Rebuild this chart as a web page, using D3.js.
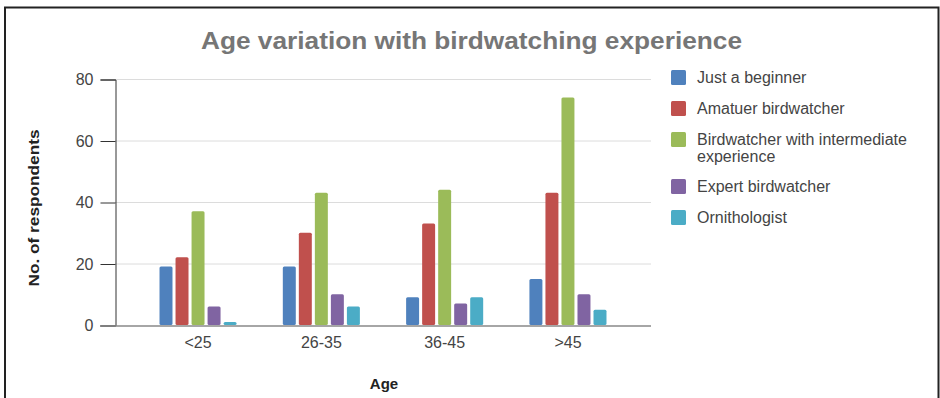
<!DOCTYPE html>
<html>
<head>
<meta charset="utf-8">
<script src="https://cdn.jsdelivr.net/npm/d3@7/dist/d3.min.js"></script>
<style>
  html, body { margin: 0; padding: 0; background: #fff; }
  svg { display: block; font-family: "Liberation Sans", Arial, sans-serif; }
</style>
</head>
<body>
<svg id="chart" width="940" height="398"></svg>
<script>
// Age groups on the x axis
const ageGroups = ["<25", "26-35", "36-45", ">45"];

// Experience levels (one bar per level in each age group)
const seriesNames = [
  "Just a beginner",
  "Amatuer birdwatcher",
  "Birdwatcher with intermediate experience",
  "Expert birdwatcher",
  "Ornithologist"
];
const seriesColors = ["#4F81BD", "#C0504D", "#9BBB59", "#8064A2", "#4BACC6"];

// Respondent counts per experience level, in age-group order
const justBeginner   = [19, 19, 9, 15];
const amateur        = [22, 30, 33, 43];
const intermediate   = [37, 43, 44, 74];
const expert         = [6, 10, 7, 10];
const ornithologist  = [1, 6, 9, 5];
const seriesValues = [justBeginner, amateur, intermediate, expert, ornithologist];

const yTicks = [0, 20, 40, 60, 80];

const svg = d3.select("#chart");

// Outer frame
svg.append("path")
  .attr("d", "M5,410 V7.5 H938.5 V410")
  .attr("fill", "none")
  .attr("stroke", "#222")
  .attr("stroke-width", 2);

const plot = { left: 115, right: 651, top: 79, bottom: 325 };

const y = d3.scaleLinear().domain([0, 80]).range([plot.bottom, plot.top]);
const x0 = d3.scaleBand().domain(ageGroups)
  .range([plot.left, plot.right])
  .paddingInner(0.375).paddingOuter(0.361);
const x1 = d3.scaleBand().domain(d3.range(seriesNames.length))
  .range([0, x0.bandwidth()])
  .paddingInner(0.19);

// Title
svg.append("text")
  .attr("x", 471.5).attr("y", 49)
  .attr("text-anchor", "middle")
  .attr("font-size", 24).attr("font-weight", "bold")
  .attr("fill", "#767676")
  .attr("textLength", 541).attr("lengthAdjust", "spacingAndGlyphs")
  .text("Age variation with birdwatching experience");

// Gridlines
svg.append("g")
  .selectAll("line").data(yTicks.filter(d => d > 0)).join("line")
  .attr("x1", plot.left).attr("x2", plot.right)
  .attr("y1", d => y(d) + 0.5).attr("y2", d => y(d) + 0.5)
  .attr("stroke", "#dcdcdc").attr("stroke-width", 1);

// Y axis
const yAxis = svg.append("g")
  .attr("transform", `translate(${plot.left + 0.5},0.5)`)
  .call(d3.axisLeft(y).tickValues(yTicks).tickSize(15).tickPadding(7));
yAxis.select(".domain").attr("stroke", "#333");
yAxis.selectAll(".tick line").attr("stroke", "#333");
yAxis.selectAll(".tick text")
  .attr("font-family", "Liberation Sans, Arial, sans-serif")
  .attr("font-size", 16).attr("fill", "#444");

// Bars
const groups = svg.append("g").selectAll("g").data(ageGroups).join("g")
  .attr("transform", d => `translate(${x0(d)},0)`);
groups.selectAll("rect")
  .data((d, i) => seriesValues.map((vals, s) => ({ s, v: vals[i] })))
  .join("rect")
  .attr("x", d => x1(d.s))
  .attr("width", x1.bandwidth())
  .attr("y", d => y(d.v))
  .attr("height", d => y(0) - y(d.v))
  .attr("rx", 1.5)
  .attr("fill", d => seriesColors[d.s]);

// X axis baseline and labels
const xAxis = svg.append("g")
  .attr("transform", `translate(0,${plot.bottom + 0.5})`)
  .call(d3.axisBottom(x0).tickSize(0).tickPadding(11));
xAxis.select(".domain")
  .attr("d", `M${plot.left - 15},0.5H${plot.right}`)
  .attr("stroke", "#888").attr("stroke-width", 1.5);
xAxis.selectAll(".tick text")
  .attr("font-family", "Liberation Sans, Arial, sans-serif")
  .attr("font-size", 16).attr("fill", "#444");

// Axis titles
svg.append("text")
  .attr("x", 384).attr("y", 389)
  .attr("text-anchor", "middle")
  .attr("font-size", 15).attr("font-weight", "bold").attr("fill", "#222")
  .text("Age");

svg.append("text")
  .attr("transform", "translate(39,208) rotate(-90)")
  .attr("text-anchor", "middle")
  .attr("font-size", 15).attr("font-weight", "bold").attr("fill", "#222")
  .attr("textLength", 157).attr("lengthAdjust", "spacingAndGlyphs")
  .text("No. of respondents");

// Legend
const legendRows = [
  { lines: ["Just a beginner"], y: 78 },
  { lines: ["Amatuer birdwatcher"], y: 109 },
  { lines: ["Birdwatcher with intermediate", "experience"], y: 140 },
  { lines: ["Expert birdwatcher"], y: 187 },
  { lines: ["Ornithologist"], y: 218 }
];
const legend = svg.append("g").selectAll("g").data(legendRows).join("g")
  .attr("transform", d => `translate(671,${d.y})`);
legend.append("rect")
  .attr("x", 0).attr("y", -8).attr("width", 15).attr("height", 15)
  .attr("rx", 1.5)
  .attr("fill", (d, i) => seriesColors[i]);
legend.append("text")
  .attr("x", 26).attr("y", 5)
  .attr("font-size", 16).attr("fill", "#444")
  .selectAll("tspan").data(d => d.lines).join("tspan")
  .attr("x", 26).attr("dy", (d, i) => i === 0 ? 0 : 17)
  .text(d => d);
</script>
</body>
</html>
